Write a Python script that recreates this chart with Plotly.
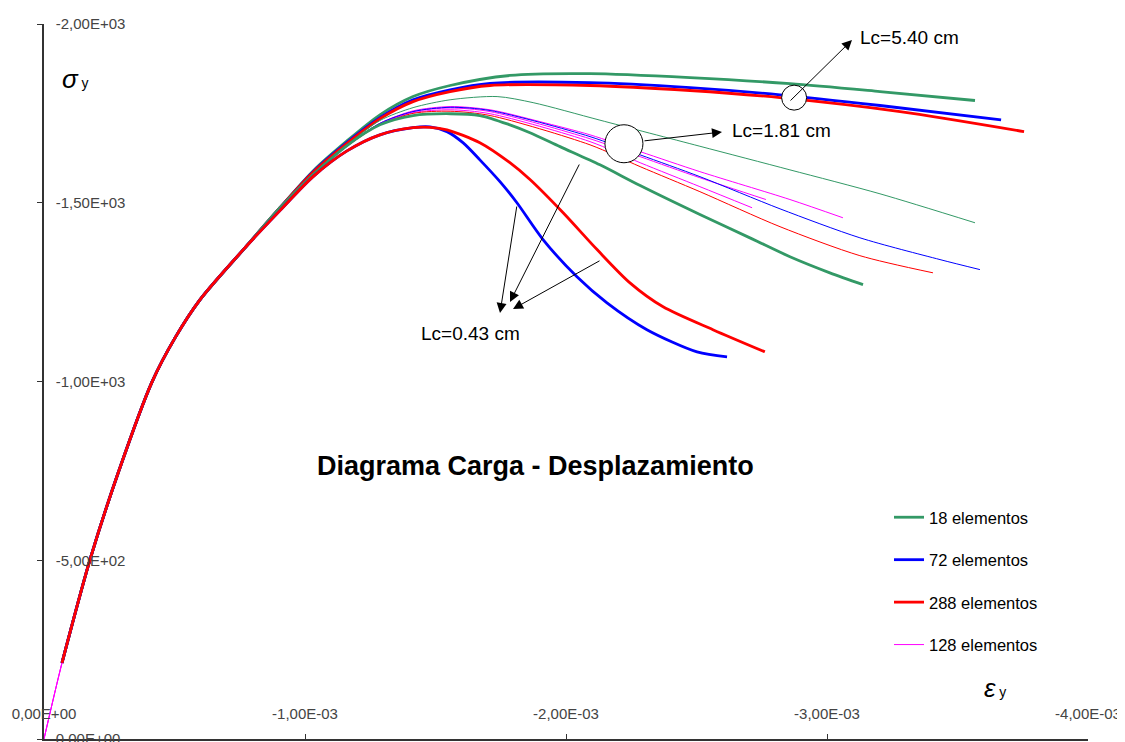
import plotly.graph_objects as go

# strain values are in 1e-3 units (compression, drawn negative), stress in chart units (drawn negative)
rise_x = [0.069, 0.176, 0.284, 0.414, 0.502, 0.598, 0.770, 0.904]
rise_y = [213, 501, 744, 999, 1122, 1229, 1374, 1486]

# --- Lc = 5.40 cm (thick)
g540_x = rise_x + [1.031, 1.161, 1.287, 1.414, 1.556, 1.785, 2.092, 2.475, 2.858, 3.203, 3.567]
g540_y = rise_y + [1589, 1673, 1746, 1797, 1828, 1856, 1861, 1850, 1833, 1811, 1786]
b540_x = rise_x + [1.031, 1.161, 1.287, 1.414, 1.556, 1.709, 2.092, 2.475, 2.820, 3.203, 3.667]
b540_y = rise_y + [1587, 1669, 1738, 1788, 1816, 1834, 1836, 1822, 1802, 1772, 1732]
r540_x = rise_x + [1.031, 1.161, 1.287, 1.414, 1.556, 1.709, 2.092, 2.475, 2.820, 3.280, 3.755]
r540_y = rise_y + [1585, 1666, 1735, 1783, 1811, 1828, 1828, 1814, 1794, 1755, 1699]

# --- Lc = 1.81 cm (thin)
g181_x = rise_x + [1.031, 1.161, 1.287, 1.414, 1.556, 1.736, 1.874, 2.130, 2.513, 2.858, 3.203, 3.567]
g181_y = rise_y + [1582, 1662, 1730, 1766, 1788, 1797, 1780, 1731, 1658, 1592, 1525, 1444]
b181_x = rise_x + [1.031, 1.161, 1.287, 1.414, 1.556, 1.709, 2.092, 2.284, 2.513, 2.820, 3.126, 3.433, 3.586]
b181_y = rise_y + [1580, 1660, 1722, 1755, 1767, 1758, 1685, 1634, 1573, 1483, 1402, 1341, 1313]
r181_x = rise_x + [1.031, 1.161, 1.287, 1.414, 1.556, 1.709, 2.092, 2.284, 2.513, 2.820, 3.126, 3.406]
r181_y = rise_y + [1580, 1658, 1718, 1750, 1756, 1744, 1662, 1601, 1531, 1433, 1352, 1304]
m181a_x = [0.0] + rise_x + [1.031, 1.161, 1.287, 1.414, 1.556, 1.709, 1.900, 2.092, 2.284, 2.513, 2.858, 3.061]
m181a_y = [0] + rise_y + [1580, 1660, 1722, 1757, 1769, 1760, 1727, 1690, 1643, 1587, 1509, 1458]
m181b_x = [0.0] + rise_x + [1.031, 1.161, 1.287, 1.414, 1.556, 1.709, 2.092, 2.284, 2.513, 2.766]
m181b_y = [0] + rise_y + [1580, 1660, 1722, 1755, 1765, 1755, 1679, 1629, 1570, 1509]
m181c_x = [0.0] + rise_x + [1.031, 1.161, 1.287, 1.414, 1.556, 1.709, 2.092, 2.284, 2.513, 2.713]
m181c_y = [0] + rise_y + [1580, 1658, 1720, 1752, 1760, 1749, 1671, 1612, 1545, 1486]

# --- Lc = 0.43 cm (thick)
g043_x = rise_x + [1.031, 1.161, 1.287, 1.414, 1.556, 1.670, 1.785, 1.862, 1.977,
                   2.130, 2.284, 2.513, 2.713, 2.858, 3.011, 3.138]
g043_y = rise_y + [1578, 1660, 1718, 1744, 1749, 1744, 1718, 1696, 1657,
                   1606, 1548, 1467, 1399, 1349, 1304, 1271]
b043_x = rise_x[:-1] + [0.904, 1.031, 1.161, 1.287, 1.414, 1.479, 1.544, 1.605, 1.670, 1.747,
                        1.812, 1.912, 2.042, 2.157, 2.310, 2.502, 2.617]
b043_y = rise_y[:-1] + [1478, 1573, 1645, 1690, 1710, 1712, 1699, 1668, 1620, 1559,
                        1500, 1397, 1293, 1220, 1145, 1083, 1069]
r043_x = rise_x[:-1] + [0.904, 1.031, 1.161, 1.287, 1.414, 1.479, 1.544, 1.670, 1.785, 1.862,
                        1.989, 2.119, 2.245, 2.372, 2.563, 2.762]
r043_y = rise_y[:-1] + [1478, 1573, 1645, 1690, 1710, 1711, 1704, 1668, 1612, 1565,
                        1472, 1369, 1276, 1209, 1145, 1083]

x_ticks = [0, -0.001, -0.002, -0.003, -0.004]
x_ticktext = ["0,00E+00", "-1,00E-03", "-2,00E-03", "-3,00E-03", "-4,00E-03"]
y_ticks = [0, -500, -1000, -1500, -2000]
y_ticktext = ["0,00E+00", "-5,00E+02", "-1,00E+03", "-1,50E+03", "-2,00E+03"]

GREEN = "#339966"
BLUE = "#0000FF"
RED = "#FF0000"
MAGENTA = "#FF00FF"
FONT = "Liberation Sans, Arial, sans-serif"

# the page body keeps its 8px margin, so the figure is drawn 8px in from the corner
PAGE_OFF = 8
W, H = 1125 - PAGE_OFF, 742 - PAGE_OFF
L, R, T, B = 44 - PAGE_OFF, 37, 24 - PAGE_OFF, 3


def paper(px, py):
    # pixel position in the screenshot -> paper coordinates
    fx, fy = px - PAGE_OFF, py - PAGE_OFF
    return (fx - L) / (W - L - R), (H - B - fy) / (H - T - B)


def add(fig, xs, ys, color, width, name=None, legend=False, group=None):
    fig.add_trace(go.Scatter(
        x=[-v * 1e-3 for v in xs], y=[-v for v in ys],
        mode="lines", line=dict(color=color, width=width, shape="spline", smoothing=0.8),
        name=name, showlegend=legend, legendgroup=group, hoverinfo="skip",
    ))


fig = go.Figure()
# legend entries first
add(fig, g540_x, g540_y, GREEN, 2.8, "18 elementos", True, "a")
add(fig, b540_x, b540_y, BLUE, 2.8, "72 elementos", True, "b")
add(fig, r540_x, r540_y, RED, 2.8, "288 elementos", True, "c")
add(fig, m181a_x, m181a_y, MAGENTA, 1, "128 elementos", True, "d")
add(fig, m181b_x, m181b_y, MAGENTA, 1)
add(fig, m181c_x, m181c_y, MAGENTA, 1)
add(fig, g181_x, g181_y, GREEN, 1)
add(fig, b181_x, b181_y, BLUE, 1)
add(fig, r181_x, r181_y, RED, 1)
add(fig, g043_x, g043_y, GREEN, 2.8)
add(fig, b043_x, b043_y, BLUE, 2.8)
add(fig, r043_x, r043_y, RED, 2.8)

# white circles marking the groups
for cx, cy, rad in [(-2.874e-3, -1794, 12.5), (-2.222e-3, -1665, 19)]:
    fig.add_shape(type="circle", xref="x", yref="y", xsizemode="pixel", ysizemode="pixel",
                  xanchor=cx, yanchor=cy, x0=-rad, x1=rad, y0=-rad, y1=rad,
                  line=dict(color="black", width=1), fillcolor="white", layer="above")

# arrows: (head px, head py, tail px, tail py)
arrows = [(852, 40, 789, 102), (722, 132, 643, 141),
          (500, 313, 517, 205), (510, 302, 580, 163), (513, 309, 601, 260)]
for hx, hy, tx, ty in arrows:
    px_, py_ = paper(hx, hy)
    fig.add_annotation(x=px_, y=py_, xref="paper", yref="paper", ax=tx - hx, ay=ty - hy,
                       axref="pixel", ayref="pixel", text="", showarrow=True,
                       arrowhead=2, arrowsize=2.0, arrowwidth=1, arrowcolor="black")

labels = [("Lc=5.40 cm", 858, 38), ("Lc=1.81 cm", 730, 131), ("Lc=0.43 cm", 419, 333)]
for txt, lx, ly in labels:
    px_, py_ = paper(lx, ly)
    fig.add_annotation(x=px_, y=py_, xref="paper", yref="paper", text=txt, showarrow=False,
                       xanchor="left", yanchor="middle", font=dict(size=19, color="black"))

px_, py_ = paper(535, 466)
fig.add_annotation(x=px_, y=py_, xref="paper", yref="paper", showarrow=False,
                   text="<b>Diagrama Carga - Desplazamiento</b>", font=dict(size=27, color="black"))

px_, py_ = paper(60, 62)
fig.add_annotation(x=px_, y=py_, xref="paper", yref="paper", showarrow=False, xanchor="left",
                   text="<i>σ</i><span style='font-size:14px'> y</span>", font=dict(size=26, color="black"))
px_, py_ = paper(982, 705)
fig.add_annotation(x=px_, y=py_, xref="paper", yref="paper", showarrow=False, xanchor="left",
                   text="<i>ε</i><span style='font-size:14px'> y</span>", font=dict(size=26, color="black"))

lx, ly = paper(889, 500)
fig.update_layout(
    width=W, height=H,
    margin=dict(l=L, r=R, t=T, b=B, autoexpand=False),
    paper_bgcolor="white", plot_bgcolor="white",
    font=dict(family=FONT, color="black"),
    legend=dict(x=lx, y=ly, xanchor="left", yanchor="top", font=dict(size=16.5),
                traceorder="grouped", tracegroupgap=18, itemwidth=30, bgcolor="rgba(0,0,0,0)"),
    xaxis=dict(range=[0, -0.004], showgrid=False, zeroline=False, showline=True, automargin=False,
               linecolor="#333", linewidth=1.5, ticks="inside", ticklen=5, tickcolor="#333",
               tickvals=x_ticks, ticktext=x_ticktext, ticklabelposition="inside",
               ticklabelstandoff=12, ticklabeloverflow="allow", tickfont=dict(size=15)),
    yaxis=dict(range=[0, -2000], showgrid=False, zeroline=False, showline=True, automargin=False,
               linecolor="#333", linewidth=1.5, ticks="outside", ticklen=5, tickcolor="#333",
               tickvals=y_ticks, ticktext=y_ticktext, ticklabelposition="inside",
               ticklabelstandoff=12, ticklabeloverflow="allow", tickfont=dict(size=15)),
)

fig.write_html("out.html")
